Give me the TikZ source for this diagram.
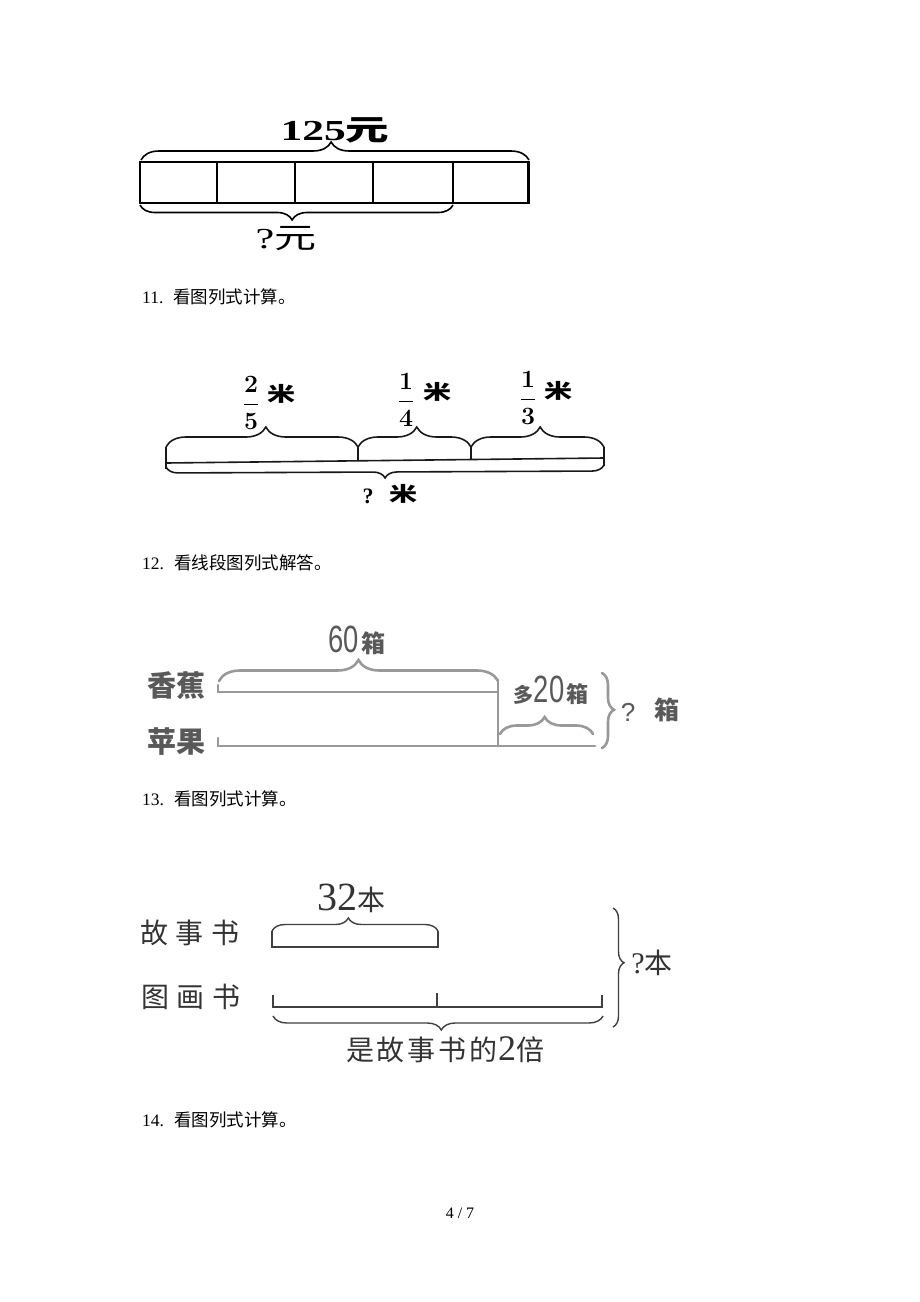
\documentclass[tikz,border=0pt]{standalone}
\usepackage{fontspec}
\usepackage{graphicx}
\setmainfont{Liberation Serif}
\newfontfamily\cjk{Noto Sans CJK SC}
\newfontfamily\lsans{Liberation Sans}
\usetikzlibrary{decorations.pathreplacing}
\tikzset{
  brc/.style={decorate, decoration={brace, amplitude=#1}},
  brc/.default=10pt,
  heading/.style={anchor=west, inner sep=0pt, font=\fontsize{17.5}{20}\selectfont},
  lineA/.style={line width=1.6pt, black},
  lineB/.style={line width=1.6pt, black!90},
  lineC/.style={line width=2.6pt, black!40, line cap=round},
  lineD/.style={line width=1.4pt, black!75},
  txtC/.style={inner sep=0pt, text=black!65},
  txtD/.style={inner sep=0pt, text=black!80},
  frac/.style={inner sep=0pt, font=\fontsize{24}{28}\selectfont\boldmath},
}
\begin{document}
\begin{tikzpicture}[x=1pt,y=-1pt]
\fill[white] (0,0) rectangle (920,1302);
\path[use as bounding box] (0,0) rectangle (920,1302);

% ---------------- Diagram 1 ----------------
\draw[lineA] (140,162) rectangle (528,203);
\foreach \x in {217,295,373,453} \draw[lineA] (\x,162)--(\x,203);
\draw[line width=3pt] (528,161)--(528,204);
\draw[lineA, brc=18pt, decoration={aspect=0.49}] (141,160)--(529,160);
\draw[lineA, brc=15pt, decoration={aspect=0.514}] (453,205)--(140,205);
\node[inner sep=0pt] (t125) at (335,130) {\scalebox{1.5}[1]{\fontsize{29}{32}\selectfont\bfseries 125{\cjk\bfseries 元}}};
\node[inner sep=0pt] (tq1) at (286,239) {\scalebox{1.45}[1]{\fontsize{29}{32}\selectfont ?{\cjk 元}}};

\node[heading] (h11) at (142,297) {11.\hspace{10pt}{\cjk 看图列式计算。}};

% ---------------- Diagram 2 ----------------
\draw[lineB] (166,463)--(604,458);
\draw[lineB, brc=20pt, decoration={aspect=0.52}] (166,447)--(358,447);
\draw[lineB, brc=20pt, decoration={aspect=0.52}] (358,447)--(471,447);
\draw[lineB, brc=20pt, decoration={aspect=0.52}] (471,447)--(604,447);
\draw[lineB] (358,447)--(358,461);
\draw[lineB] (471,447)--(471,460);
\draw[lineB] (166,447)--(166,469);
\draw[lineB] (604,447)--(604,466);
\draw[lineB, brc=12pt, decoration={aspect=0.5}] (604,465)--(166,467);
\node[frac] (f25) at (251,403) {$\displaystyle\frac{2}{5}$};
\node[inner sep=0pt] (m1) at (281,394) {\scalebox{1.4}[1]{\cjk\bfseries\fontsize{20}{22}\selectfont 米}};
\node[frac] (f14) at (406,400) {$\displaystyle\frac{1}{4}$};
\node[inner sep=0pt] (m2) at (437,392) {\scalebox{1.4}[1]{\cjk\bfseries\fontsize{20}{22}\selectfont 米}};
\node[frac] (f13) at (528,398) {$\displaystyle\frac{1}{3}$};
\node[inner sep=0pt] (m3) at (558,391) {\scalebox{1.4}[1]{\cjk\bfseries\fontsize{20}{22}\selectfont 米}};
\node[inner sep=0pt] (q2) at (368,496) {\fontsize{22}{24}\selectfont\bfseries ?};
\node[inner sep=0pt] (m4) at (403,494) {\scalebox{1.4}[1]{\cjk\bfseries\fontsize{20}{22}\selectfont 米}};

\node[heading] (h12) at (142,563) {12.\hspace{10pt}{\cjk 看线段图列式解答。}};

% ---------------- Diagram 3 ----------------
\draw[lineC, brc=21pt, decoration={aspect=0.5}] (219,681)--(498,681);
\draw[lineC] (218,685)--(218,692)--(498,692);
\draw[lineC] (218,738)--(218,746)--(595,746);
\draw[lineC] (498,680)--(498,746);
\draw[lineC, brc=17pt, decoration={aspect=0.48}] (500,734)--(593,734);
\draw[lineC, brc=12pt, decoration={aspect=0.49}] (602,673)--(602,748);
\node[txtC] (xj) at (176,686) {\cjk\bfseries\fontsize{29}{32}\selectfont 香蕉};
\node[txtC] (pg) at (176,742) {\cjk\bfseries\fontsize{29}{32}\selectfont 苹果};
\node[txtC] (t60) at (357,640) {\scalebox{0.72}[1]{\lsans\fontsize{38}{40}\selectfont 60}\hspace{2pt}{\cjk\bfseries\fontsize{24}{26}\selectfont 箱}};
\node[txtC] (t20) at (551,690) {{\cjk\bfseries\fontsize{20}{22}\selectfont 多}\scalebox{0.72}[1]{\lsans\fontsize{38}{40}\selectfont 20}\hspace{2pt}{\cjk\bfseries\fontsize{22}{24}\selectfont 箱}};
\node[txtC] (q3) at (628,712) {\lsans\fontsize{26}{28}\selectfont ?};
\node[txtC] (x3) at (667,710) {\cjk\bfseries\fontsize{25}{27}\selectfont 箱};

\node[heading] (h13) at (142,799) {13.\hspace{10pt}{\cjk 看图列式计算。}};

% ---------------- Diagram 4 ----------------
\draw[lineD, brc=13pt, decoration={aspect=0.46}] (272,931)--(438,931);
\draw[lineD] (272,931)--(272,947)--(438,947)--(438,931);
\draw[lineD] (273,995)--(273,1007)--(602,1007)--(602,995);
\draw[lineD] (437,993)--(437,1007);
\draw[lineD, brc=14pt, decoration={aspect=0.49}] (603,1016)--(273,1016);
\draw[lineD, brc=11pt, decoration={aspect=0.46}] (613,908)--(613,1027);
\node[txtD] (gs) at (190,933) {\cjk\fontsize{28}{30}\selectfont 故\hspace{8pt}事\hspace{8pt}书};
\node[txtD] (th) at (191,997) {\cjk\fontsize{28}{30}\selectfont 图\hspace{8pt}画\hspace{8pt}书};
\node[txtD] (t32) at (351,898) {\fontsize{40}{42}\selectfont 32{\cjk\fontsize{28}{30}\selectfont 本}};
\node[txtD] (tbei) at (445,1050) {\cjk\fontsize{28}{30}\selectfont 是\hspace{3pt}故\hspace{3pt}事\hspace{3pt}书\hspace{3pt}的{\rmfamily\fontsize{36}{38}\selectfont 2}倍};
\node[txtD] (qb) at (652,963) {\fontsize{30}{32}\selectfont ?{\cjk\fontsize{28}{30}\selectfont 本}};

\node[heading] (h14) at (142,1120) {14.\hspace{10pt}{\cjk 看图列式计算。}};

% page number
\node[inner sep=0pt, font=\fontsize{16}{19}\selectfont] (pn) at (460,1213) {4 / 7};
\end{tikzpicture}
\end{document}
